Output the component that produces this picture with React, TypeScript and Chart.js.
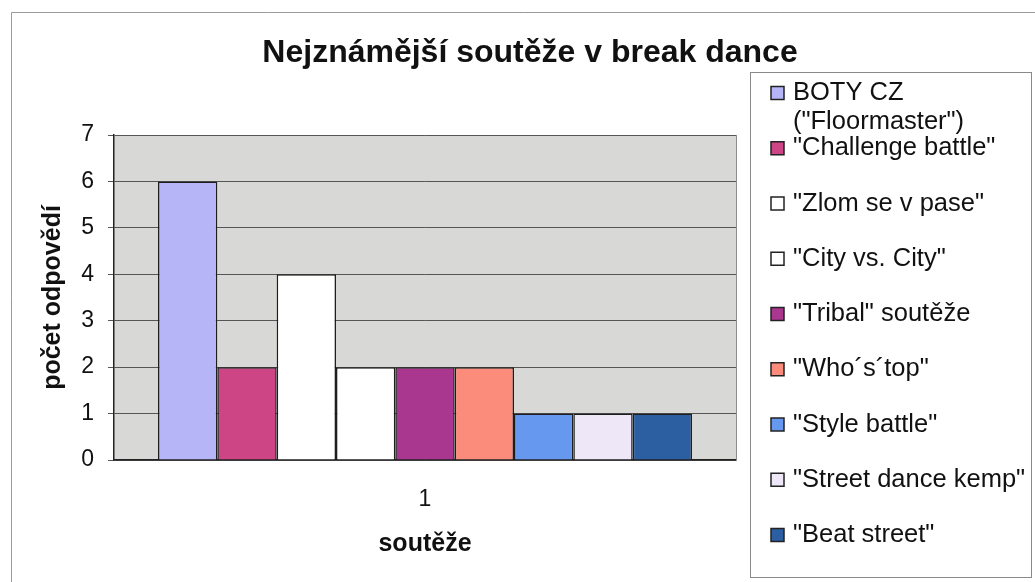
import React, { useEffect, useRef } from "react";
import { Chart, registerables } from "chart.js";

Chart.register(...registerables);

const chartTitle = "Nejznámější soutěže v break dance";
const yAxisTitle = "počet odpovědí";
const xAxisTitle = "soutěže";
const categories = ["1"];
const seriesLabels = [
  'BOTY CZ ("Floormaster")',
  '"Challenge battle"',
  '"Zlom se v pase"',
  '"City vs. City"',
  '"Tribal" soutěže',
  '"Who´s´top"',
  '"Style battle"',
  '"Street dance kemp"',
  '"Beat street"',
];
const seriesValues = [6, 2, 4, 2, 2, 2, 1, 1, 1];
const seriesColors = [
  "#b5b5f7",
  "#cd4585",
  "#ffffff",
  "#ffffff",
  "#a9368f",
  "#fb8c7b",
  "#6598ee",
  "#ede7f8",
  "#2c5ea2",
];
const yMin = 0;
const yMax = 7;
const yStep = 1;

const FONT = '"Liberation Sans", Arial, sans-serif';

function wrapText(ctx: CanvasRenderingContext2D, text: string, maxW: number): string[] {
  const words = text.split(" ");
  const lines: string[] = [];
  let cur = "";
  for (const w of words) {
    const test = cur ? cur + " " + w : w;
    if (ctx.measureText(test).width > maxW && cur) {
      lines.push(cur);
      cur = w;
    } else {
      cur = test;
    }
  }
  if (cur) lines.push(cur);
  return lines;
}

const decorPlugin = {
  id: "decor",
  beforeDraw(chart: any) {
    const { ctx, chartArea } = chart;
    ctx.save();
    ctx.fillStyle = "#ffffff";
    ctx.fillRect(0, 0, chart.width, chart.height);
    ctx.fillStyle = "#d8d9d7";
    ctx.fillRect(chartArea.left, chartArea.top, chartArea.right - chartArea.left, chartArea.bottom - chartArea.top);
    ctx.restore();
  },
  afterDraw(chart: any) {
    const { ctx, chartArea } = chart;
    ctx.save();
    // plot frame (right side)
    ctx.strokeStyle = "#8c8c8c";
    ctx.lineWidth = 1;
    ctx.beginPath();
    ctx.moveTo(chartArea.right + 0.5, chartArea.top);
    ctx.lineTo(chartArea.right + 0.5, chartArea.bottom);
    ctx.stroke();
    // outer border
    ctx.strokeStyle = "#9a9a9a";
    ctx.beginPath();
    ctx.moveTo(11.5, chart.height);
    ctx.lineTo(11.5, 12.5);
    ctx.lineTo(chart.width, 12.5);
    ctx.stroke();
    // title
    ctx.fillStyle = "#111";
    ctx.font = `bold 32px ${FONT}`;
    ctx.textAlign = "center";
    ctx.textBaseline = "middle";
    ctx.fillText(chartTitle, 530, 53);
    // legend box
    ctx.strokeStyle = "#8a8a8a";
    ctx.lineWidth = 1;
    ctx.strokeRect(750.5, 72.5, 281, 505);
    ctx.font = `25.5px ${FONT}`;
    ctx.textAlign = "left";
    chart.data.datasets.forEach((ds: any, i: number) => {
      const y = 93 + i * 55.25;
      ctx.fillStyle = ds.backgroundColor;
      ctx.fillRect(771, y - 6.5, 13, 13);
      ctx.strokeStyle = "#222";
      ctx.lineWidth = 1.5;
      ctx.strokeRect(771, y - 6.5, 13, 13);
      ctx.fillStyle = "#111";
      const lines = wrapText(ctx, ds.label, 236);
      lines.forEach((l, j) => ctx.fillText(l, 793, y + j * 29));
    });
    ctx.restore();
  },
};

export default function App() {
  const ref = useRef<HTMLCanvasElement | null>(null);
  useEffect(() => {
    if (!ref.current) return;
    const chart = new Chart(ref.current, {
      type: "bar",
      data: {
        labels: categories,
        datasets: seriesLabels.map((label, i) => ({
          label,
          data: [seriesValues[i]],
          backgroundColor: seriesColors[i],
          borderColor: "#1e1e1e",
          borderWidth: 1.5,
          categoryPercentage: 0.8585,
          barPercentage: 1,
        })),
      },
      options: {
        animation: false,
        responsive: false,
        layout: { padding: { top: 135, right: 299, left: 0, bottom: 0 } },
        plugins: {
          legend: { display: false },
          title: { display: false },
          tooltip: { enabled: false },
        },
        scales: {
          x: {
            afterFit: (s: any) => {
              s.height = 122;
            },
            grid: { display: false, drawTicks: false },
            border: { display: true, color: "#222", width: 1.5 },
            ticks: { color: "#111", font: { family: FONT, size: 23 }, padding: 26 },
            title: {
              display: true,
              text: xAxisTitle,
              color: "#111",
              font: { family: FONT, size: 25, weight: "bold" },
              padding: { top: 0, bottom: 23 },
            },
          },
          y: {
            min: yMin,
            max: yMax,
            afterFit: (s: any) => {
              s.width = 114;
            },
            ticks: { stepSize: yStep, color: "#111", font: { family: FONT, size: 23 }, padding: 14 },
            grid: { color: "#555", lineWidth: 1, tickLength: 6, drawTicks: true },
            border: { display: true, color: "#222", width: 1.5 },
            title: {
              display: true,
              text: yAxisTitle,
              color: "#111",
              font: { family: FONT, size: 25, weight: "bold" },
              padding: { top: 38, bottom: 0 },
            },
          },
        },
      } as any,
      plugins: [decorPlugin],
    });
    return () => chart.destroy();
  }, []);
  return (
    <div style={{ position: "absolute", left: 0, top: 0, width: 1035, height: 582 }}>
      <canvas ref={ref} width={1035} height={582} />
    </div>
  );
}
